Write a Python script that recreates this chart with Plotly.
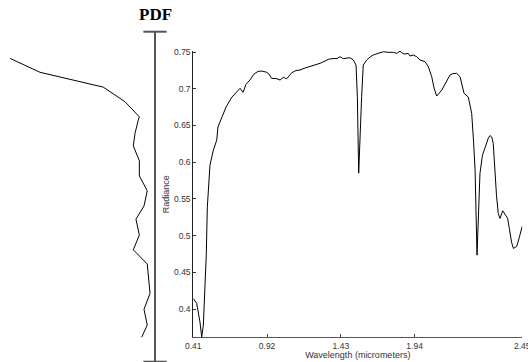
import plotly.graph_objects as go

# Radiance spectrum sampled by band number (224 bands)
band = [1, 3.3, 5.5, 6.7, 7.8, 8.9, 9.8, 10.5, 11.3, 12.3, 14.6, 16.9, 17.7, 20.5, 23.2,
        27.2, 30.6, 32.7, 34.7, 36.7, 39.4, 42.1, 44.9, 47.6, 50.8, 52.3, 54.1, 57.1,
        59.8, 62.0, 64.3, 67.7, 70.6, 73.3, 76.7, 80.1, 83.5, 86.9, 89.6, 92.5, 95.7,
        98.4, 100.4, 102.7, 105.2, 107.2, 109.5, 111.3, 112.2, 112.8, 113.1, 113.7,
        114.3, 115.1, 116.2, 118.5, 120.8, 123.0, 126.2, 129.8, 133.0, 136.6, 138.9,
        141.1, 143.1, 144.5, 146.7, 147.9, 150.1, 152.4, 154.7, 158.1, 160.3, 162.6,
        164.2, 166.0, 169.4, 172.3, 175.0, 177.0, 179.5, 181.8, 183.1, 184.5, 187.4,
        189.7, 190.9, 192.0, 192.6, 193.3, 194.3, 195.3, 197.0, 198.7, 201.0, 202.1,
        203.3, 204.3, 205.5, 206.5, 207.7, 208.9, 210.7, 213.0, 214.0, 215.2, 216.7,
        218.0, 220.3, 222.2, 224]
radiance = [0.4145, 0.4077, 0.3827, 0.3622, 0.3782, 0.4214, 0.4735, 0.5389, 0.5689,
            0.5961, 0.6165, 0.6301, 0.6479, 0.6615, 0.6751, 0.6887, 0.6969, 0.7006,
            0.6951, 0.7060, 0.7119, 0.7200, 0.7237, 0.7241, 0.7224, 0.7200, 0.7142,
            0.7139, 0.7119, 0.7155, 0.7136, 0.7218, 0.7248, 0.7255, 0.7282, 0.7300,
            0.7323, 0.7346, 0.7371, 0.7401, 0.7411, 0.7411, 0.7436, 0.7409, 0.7418,
            0.7422, 0.7391, 0.7323, 0.6891, 0.6301, 0.5852, 0.6165, 0.6574, 0.6891,
            0.7323, 0.7391, 0.7432, 0.7459, 0.7482, 0.7504, 0.7496, 0.7496, 0.7482,
            0.7511, 0.7480, 0.7473, 0.7482, 0.7446, 0.7459, 0.7436, 0.7391, 0.7368,
            0.7300, 0.7164, 0.7010, 0.6901, 0.6982, 0.7091, 0.7187, 0.7207, 0.7210,
            0.7164, 0.7051, 0.6938, 0.6887, 0.6665, 0.6301, 0.5893, 0.5348, 0.4735,
            0.5280, 0.5848, 0.6097, 0.6210, 0.6329, 0.6363, 0.6342, 0.6257, 0.5848,
            0.5552, 0.5303, 0.5235, 0.5339, 0.5280, 0.5239, 0.5099, 0.4912, 0.4826,
            0.4858, 0.4994, 0.5130]

tick_bands = [1, 51, 101, 151, 224]
tick_labels = ["0.41", "0.92", "1.43", "1.94", "2.45"]
radiance_ticks = [0.4, 0.45, 0.5, 0.55, 0.6, 0.65, 0.7, 0.75]
radiance_tick_labels = ["0.4", "0.45", "0.5", "0.55", "0.6", "0.65", "0.7", "0.75"]

# Probability density profile (density vs. normalised level, 0 = bottom cap, 1 = top cap)
pdf_level = [0.919, 0.877, 0.832, 0.788, 0.742, 0.732, 0.692, 0.654, 0.609, 0.563,
             0.518, 0.472, 0.432, 0.384, 0.339, 0.296, 0.207, 0.159, 0.111, 0.074]
pdf_density = [0.935, 0.742, 0.334, 0.194, 0.101, 0.108, 0.129, 0.140, 0.101, 0.101,
               0.050, 0.071, 0.123, 0.101, 0.140, 0.050, 0.032, 0.071, 0.050, 0.086]

W, H = 528, 362
tick_font = dict(family="Liberation Sans, Arial, sans-serif", size=8.5, color="#333333")
title_font = dict(family="Liberation Sans, Arial, sans-serif", size=9, color="#333333")

fig = go.Figure()
fig.add_trace(go.Scatter(x=band, y=radiance, mode="lines",
                         line=dict(color="black", width=1),
                         xaxis="x", yaxis="y", showlegend=False, hoverinfo="skip"))
fig.add_trace(go.Scatter(x=pdf_density, y=pdf_level, mode="lines",
                         line=dict(color="black", width=1),
                         xaxis="x2", yaxis="y2", showlegend=False, hoverinfo="skip"))

# PDF axis: vertical bar with end caps, in the panel's own coordinates
axis_col = "#555555"
cap = 0.075
fig.add_shape(type="line", xref="x2", yref="y2", x0=0, x1=0, y0=0, y1=1,
              line=dict(color=axis_col, width=2))
for lvl in (0, 1):
    fig.add_shape(type="line", xref="x2", yref="y2", x0=-cap, x1=cap, y0=lvl, y1=lvl,
                  line=dict(color=axis_col, width=2))

fig.add_annotation(text="<b>PDF</b>", xref="x2", yref="paper", x=0, y=1 - 14 / H,
                   showarrow=False, xanchor="center", yanchor="middle",
                   font=dict(family="Liberation Serif, Times New Roman, serif",
                             size=17, color="black"))

fig.update_layout(
    width=W, height=H,
    margin=dict(l=0, r=0, t=0, b=0),
    paper_bgcolor="white", plot_bgcolor="white",
    xaxis=dict(domain=[193.3 / W, 522.3 / W], range=[1, 224],
               tickvals=tick_bands, ticktext=tick_labels,
               ticks="inside", ticklen=3, tickcolor="#444444", tickwidth=1,
               showline=True, linecolor="#555555", linewidth=1, mirror=False,
               showgrid=False, zeroline=False, tickfont=tick_font,
               ticklabeloverflow="allow",
               title=dict(text="Wavelength (micrometers)", font=title_font, standoff=2),
               automargin=False),
    yaxis=dict(domain=[(H - 337.3) / H, (H - 51) / H], range=[0.3617, 0.7514],
               tickvals=radiance_ticks, ticktext=radiance_tick_labels,
               ticks="inside", ticklen=3, tickcolor="#333333", tickwidth=1,
               showline=True, linecolor="#222222", linewidth=1, mirror=False,
               showgrid=False, zeroline=False, tickfont=tick_font,
               ticklabeloverflow="allow",
               title=dict(text="Radiance", font=title_font, standoff=2),
               automargin=False),
    xaxis2=dict(domain=[0, 175 / W], range=[1.0, -0.129], visible=False,
                showgrid=False, zeroline=False),
    yaxis2=dict(domain=[0, 1], anchor="x2", range=[-0.3 / 330, 1 + 31.7 / 330],
                visible=False, showgrid=False, zeroline=False),
)

fig.write_html("out.html")
